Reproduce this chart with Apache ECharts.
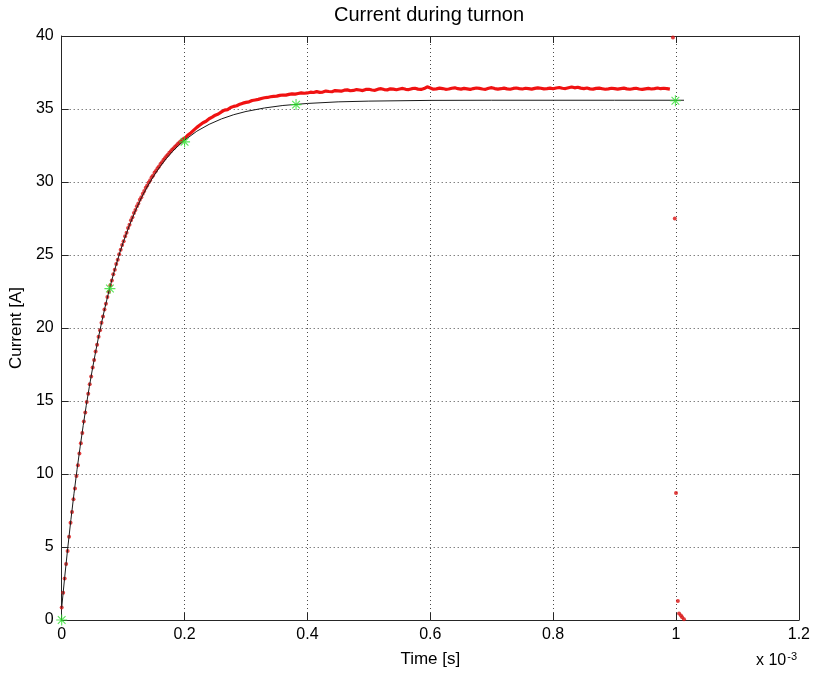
<!DOCTYPE html>
<html>
<head>
<meta charset="utf-8">
<script src="https://cdn.jsdelivr.net/npm/echarts@6/dist/echarts.min.js"></script>
<style>
html,body{margin:0;padding:0;background:#fff;}
#chart{width:813px;height:675px;}
</style>
</head>
<body>
<div id="chart"></div>
<script>
// ---- data (time in ms, i.e. x 10^-3 s; current in A) ----
const xTicks = [0, 0.2, 0.4, 0.6, 0.8, 1.0, 1.2];
const yTicks = [0, 5, 10, 15, 20, 25, 30, 35, 40];

// measured current: sampled points during the rise (sample step in ms)
const redRiseStep = 0.0024;
const redRiseValues = [
  0.85, 1.87, 2.85, 3.84, 4.73, 5.70, 6.66, 7.40, 8.27, 9.00, 9.86, 10.60, 11.40, 12.10, 12.80, 13.60,
  14.22, 14.93, 15.50, 16.15, 16.68, 17.30, 17.80, 18.39, 18.85, 19.40, 19.85, 20.36, 20.78, 21.27,
  21.66, 22.12, 22.48, 22.92, 23.26, 23.68, 23.99, 24.38, 24.68, 25.05,
  25.36, 25.69, 25.95, 26.29, 26.53, 26.85, 27.08, 27.38, 27.59, 27.88,
  28.08, 28.34, 28.53, 28.79, 28.96, 29.20, 29.38, 29.60, 29.76, 29.96,
  30.12, 30.32, 30.45, 30.65, 30.77, 30.95, 31.07, 31.23, 31.35, 31.50,
  31.62, 31.76, 31.86, 32.01, 32.10, 32.23, 32.32, 32.44, 32.52, 32.63,
  32.72, 32.81, 32.90, 32.98
];

// measured current: dense noisy trace from 0.2 ms to 0.99 ms
const redTraceStart = 0.2;
const redTraceStep = 0.005;
const redTraceValues = [
  32.98, 33.20, 33.36, 33.55, 33.74, 33.90, 34.06, 34.16, 34.33, 34.44,
  34.58, 34.66, 34.80, 34.92, 34.96, 35.10, 35.18, 35.22, 35.33, 35.40,
  35.45, 35.49, 35.58, 35.62, 35.66, 35.72, 35.77, 35.79, 35.84, 35.87,
  35.88, 35.93, 35.96, 35.95, 36.00, 36.04, 36.02, 36.06, 36.10, 36.08,
  36.10, 36.15, 36.13, 36.19, 36.14, 36.16, 36.23, 36.20, 36.18, 36.26,
  36.24, 36.22, 36.29, 36.31, 36.25, 36.27, 36.33, 36.30, 36.26, 36.34,
  36.35, 36.30, 36.28, 36.36, 36.39, 36.33, 36.31, 36.38, 36.36, 36.32,
  36.37, 36.41, 36.35, 36.33, 36.39, 36.42, 36.36, 36.34, 36.40, 36.52,
  36.44, 36.36, 36.38, 36.43, 36.40, 36.35, 36.37, 36.42, 36.45, 36.39,
  36.36, 36.41, 36.38, 36.34, 36.40, 36.44, 36.41, 36.37, 36.35, 36.42,
  36.46, 36.40, 36.36, 36.39, 36.43, 36.38, 36.35, 36.41, 36.44, 36.40,
  36.37, 36.42, 36.39, 36.36, 36.41, 36.45, 36.42, 36.38, 36.40, 36.43,
  36.39, 36.44, 36.47, 36.42, 36.40, 36.46, 36.51, 36.45, 36.49, 36.43,
  36.40, 36.44, 36.38, 36.36, 36.41, 36.43, 36.39, 36.35, 36.38, 36.42,
  36.39, 36.36, 36.40, 36.43, 36.38, 36.35, 36.39, 36.42, 36.37, 36.34,
  36.38, 36.41, 36.37, 36.40, 36.44, 36.39, 36.42, 36.40, 36.36
];

// measured current at turn-off (outliers near 1 ms)
const redTailTimes  = [0.995, 0.998, 1.000, 1.003, 1.005, 1.008, 1.010, 1.013];
const redTailValues = [39.9, 27.5, 8.7, 1.3, 0.45, 0.30, 0.18, 0.05];

// model curve
const blackTimes = [0, 0.005, 0.01, 0.015, 0.02, 0.025, 0.03, 0.035, 0.04, 0.045, 0.05, 0.055, 0.06, 0.065,
  0.07, 0.075, 0.08, 0.085, 0.09, 0.095, 0.1, 0.11, 0.12, 0.13, 0.14, 0.15, 0.16, 0.17, 0.18, 0.19, 0.2,
  0.22, 0.24, 0.26, 0.28, 0.3, 0.33, 0.36, 0.4, 0.45, 0.5, 0.6, 0.7, 0.8, 0.9, 1.0, 1.013];
const blackValues = [0.85, 2.99, 4.99, 6.88, 8.65, 10.31, 11.86, 13.32, 14.70, 15.98, 17.19, 18.32, 19.39, 20.38,
  21.32, 22.20, 23.03, 23.80, 24.52, 25.21, 25.85, 27.01, 28.03, 28.94, 29.73, 30.43, 31.05, 31.59, 32.07, 32.49, 32.86,
  33.48, 33.95, 34.32, 34.61, 34.83, 35.07, 35.24, 35.38, 35.49, 35.54, 35.59, 35.60, 35.60, 35.60, 35.60, 35.60];

// marked points
const greenTimes  = [0, 0.0785, 0.2, 0.3815, 0.999];
const greenValues = [0, 22.7, 32.75, 35.3, 35.57];

// ---- build series data ----
const redRiseData  = redRiseValues.map((v, i) => [i * redRiseStep, v]);
const redTraceData = redTraceValues.map((v, i) => [redTraceStart + i * redTraceStep, v]);
const redTailData  = redTailTimes.map((t, i) => [t, redTailValues[i]]);
const blackData    = blackTimes.map((t, i) => [t, blackValues[i]]);
const greenData    = greenTimes.map((t, i) => [t, greenValues[i]]);

const STAR = 'path://M45,0 L55,0 L55,100 L45,100 Z M0,45 L100,45 L100,55 L0,55 Z ' +
  'M18.5,11.5 L88.5,81.5 L81.5,88.5 L11.5,18.5 Z M81.5,11.5 L88.5,18.5 L18.5,88.5 L11.5,81.5 Z';

const FONT = 'Liberation Sans, Arial, Helvetica, sans-serif';
const AX = '#262626';
const GRID_LINE = { show: true, lineStyle: { color: '#4a4a4a', type: [1, 3], width: 1 } };

const chart = echarts.init(document.getElementById('chart'), null, { renderer: 'canvas' });
chart.setOption({
  animation: false,
  backgroundColor: '#ffffff',
  grid: { left: 60, right: 14, top: 36, bottom: 55, containLabel: false },
  xAxis: [{
    type: 'value', min: xTicks[0], max: xTicks[xTicks.length - 1], interval: 0.2,
    name: 'Time [s]', nameLocation: 'middle', nameGap: 31,
    nameTextStyle: { fontFamily: FONT, fontSize: 17, color: '#000' },
    axisLine: { show: true, onZero: false, lineStyle: { color: AX, width: 1 } },
    axisTick: { show: true, inside: true, length: 7, lineStyle: { color: AX } },
    axisLabel: { fontFamily: FONT, fontSize: 16, color: '#000', margin: 7,
      formatter: v => String(Math.round(v * 10) / 10) },
    splitLine: GRID_LINE
  }, {
    type: 'value', position: 'top', min: xTicks[0], max: xTicks[xTicks.length - 1], interval: 0.2,
    axisLine: { show: true, onZero: false, lineStyle: { color: AX, width: 1 } },
    axisTick: { show: true, inside: true, length: 7, lineStyle: { color: AX } },
    axisLabel: { show: false }, splitLine: { show: false }
  }],
  yAxis: [{
    type: 'value', min: yTicks[0], max: yTicks[yTicks.length - 1], interval: 5,
    name: 'Current [A]', nameLocation: 'middle', nameGap: 30, nameRotate: 90,
    nameTextStyle: { fontFamily: FONT, fontSize: 17, color: '#000' },
    axisLine: { show: true, onZero: false, lineStyle: { color: AX, width: 1 } },
    axisTick: { show: true, inside: true, length: 7, lineStyle: { color: AX } },
    axisLabel: { fontFamily: FONT, fontSize: 16, color: '#000', margin: 8 },
    splitLine: GRID_LINE
  }, {
    type: 'value', position: 'right', min: yTicks[0], max: yTicks[yTicks.length - 1], interval: 5,
    axisLine: { show: true, onZero: false, lineStyle: { color: AX, width: 1 } },
    axisTick: { show: true, inside: true, length: 7, lineStyle: { color: AX } },
    axisLabel: { show: false }, splitLine: { show: false }
  }],
  graphic: [
    { type: 'text', x: 429, y: 5, style: { text: 'Current during turnon', font: '20px ' + FONT, fill: '#000',
      textAlign: 'center', textVerticalAlign: 'top' } },
    { type: 'text', x: 756, y: 651, style: { text: 'x 10{sup|-3}', font: '16px ' + FONT, fill: '#000',
      rich: { sup: { fontSize: 11, verticalAlign: 'top', padding: [0, 0, 8, 1], fontFamily: FONT } } } }
  ],
  series: [
    { name: 'meas-rise', type: 'scatter', data: redRiseData, symbol: 'circle', symbolSize: 4,
      itemStyle: { color: '#d81212' }, z: 2 },
    { name: 'meas-trace', type: 'line', data: redTraceData, showSymbol: false, symbol: 'none',
      lineStyle: { color: '#f01212', width: 3.2 }, z: 2 },
    { name: 'meas-tail', type: 'scatter', data: redTailData, symbol: 'circle', symbolSize: 4,
      itemStyle: { color: '#d81212' }, z: 2 },
    { name: 'model', type: 'line', data: blackData, showSymbol: false, symbol: 'none',
      lineStyle: { color: '#1a1a1a', width: 1 }, z: 3 },
    { name: 'marks', type: 'scatter', data: greenData, symbol: STAR, symbolSize: 11,
      itemStyle: { color: '#2ee02e' }, z: 4 }
  ]
});
</script>
</body>
</html>
